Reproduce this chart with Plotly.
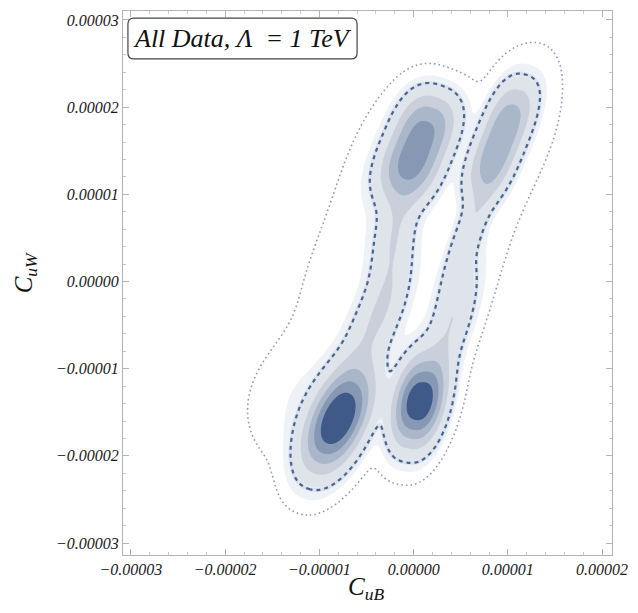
import numpy as np
import plotly.graph_objects as go

# ---- data (units of 1e-5): density components ----
# L1, BL1, BL2, L2 | R1, BR1, BR2, R2 | halos HL1, HL2, HR1, HR2, C0, HLm, HRm
comp_cx  = [-0.80, -0.40, -0.20, 0.05, 0.06, 0.42, 0.60, 0.92, -1.10, -0.28, 0.22, 1.10, 0.10, -0.82, 0.80]
comp_cy  = [-1.58, -0.45, 0.55, 1.55, -1.38, -0.40, 0.62, 1.62, -1.45, 1.40, -1.30, 1.85, 0.20, 0.20, 0.20]
comp_su  = [0.38, 0.45, 0.50, 0.46, 0.32, 0.45, 0.45, 0.50, 0.45, 0.65, 0.45, 0.60, 1.60, 0.90, 0.80]
comp_sv  = [0.186, 0.15, 0.13, 0.216, 0.18, 0.13, 0.09, 0.16, 0.40, 0.28, 0.22, 0.28, 0.50, 0.30, 0.18]
comp_ang = [22, 23, 10, 20, 12, 15, 20, 20, 18, 15, 12, 18, 20, 22, 22]
comp_w   = [1.00, 0.20, 0.20, 0.62, 0.92, 0.20, 0.18, 0.48, 0.04, 0.025, 0.018, 0.03, 0.012, 0.016, 0.010]
comp_pu  = [2, 2, 2, 3, 2, 2, 2, 3, 2, 2, 2, 2, 2, 2, 2]
comp_pv  = [2.2, 2, 2, 2.5, 2.5, 2, 2, 2.5, 2, 2, 2, 2, 2, 2, 2]

fill_levels = [0.04, 0.10, 0.22, 0.38, 0.56, 0.76, 0.95]
fill_colors = ["#eef1f5", "#dfe4eb", "#c9d0dc", "#aab6ca", "#8798b5", "#627699", "#3f5a88"]
dashed_level = 0.085
dotted_level = 0.012

x_ticks = [-3e-5, -2e-5, -1e-5, 0.0, 1e-5, 2e-5]
y_ticks = [-3e-5, -2e-5, -1e-5, 0.0, 1e-5, 2e-5, 3e-5]
x_range = [-3.084e-5, 2.105e-5]
y_range = [-3.137e-5, 3.103e-5]

# ---- density field ----
gx = np.linspace(-3.1, 2.12, 340)
gy = np.linspace(-3.15, 3.12, 400)
X, Y = np.meshgrid(gx, gy)
Z = np.zeros_like(X)
for cx, cy, su, sv, ang, w, pu, pv in zip(comp_cx, comp_cy, comp_su, comp_sv, comp_ang,
                                          comp_w, comp_pu, comp_pv):
    a = np.radians(ang)
    dx, dy = X - cx, Y - cy
    u = dx * np.sin(a) + dy * np.cos(a)
    v = dx * np.cos(a) - dy * np.sin(a)
    Z += w * np.exp(-0.5 * (np.abs(u / su) ** pu + np.abs(v / sv) ** pv))

nl = len(fill_levels)
zmax_map = max(float(Z.max()), fill_levels[-1] + 0.01)
Zf = np.interp(Z, [0.0] + fill_levels + [zmax_map], list(range(0, nl + 1)) + [nl + 1])

n = nl + 1
cs = [[0.0, "#ffffff"], [0.8 / n, "#ffffff"]]
for i, c in enumerate(fill_colors):
    cs.append([(i + 0.8) / n, c])
    cs.append([min((i + 1.8) / n, 1.0), c])
cs[-1][0] = 1.0

xs = gx * 1e-5
ys = gy * 1e-5

fig = go.Figure()
fig.add_trace(go.Contour(
    x=xs, y=ys, z=Zf, zmin=0, zmax=n, zauto=False,
    colorscale=cs, showscale=False, hoverinfo="skip",
    contours=dict(start=1, end=nl, size=1, coloring="fill"),
    line=dict(width=0),
))
fig.add_trace(go.Contour(
    x=xs, y=ys, z=Z, showscale=False, hoverinfo="skip",
    contours=dict(start=dashed_level, end=dashed_level, size=1, coloring="none"),
    line=dict(color="#d8e2f0", width=4),
))
fig.add_trace(go.Contour(
    x=xs, y=ys, z=Z, showscale=False, hoverinfo="skip",
    contours=dict(start=dashed_level, end=dashed_level, size=1, coloring="none"),
    line=dict(color="#4f6288", width=2.2, dash="4px,4px"),
))
fig.add_trace(go.Contour(
    x=xs, y=ys, z=Z, showscale=False, hoverinfo="skip",
    contours=dict(start=dotted_level, end=dotted_level, size=1, coloring="none"),
    line=dict(color="#8e9aba", width=1.6, dash="1.6px,3px"),
))

serif = "Liberation Serif, Times New Roman, Times, serif"
tickfont = dict(family=serif, size=16, color="#1a1a1a", style="italic")
axis_common = dict(
    showgrid=False, zeroline=False, showline=True, linecolor="#b4b4b4", linewidth=1,
    mirror="ticks", ticks="inside", ticklen=6, tickcolor="#b4b4b4", tickwidth=1,
    tickfont=tickfont, tickformat=".5f",
    minor=dict(ticks="inside", ticklen=3, dtick=2e-6, tickcolor="#c8c8c8", showgrid=False),
)
fig.update_xaxes(range=x_range, tickvals=x_ticks, **axis_common)
fig.update_yaxes(range=y_range, tickvals=y_ticks, **axis_common)

# rounded label box (paper coordinates)
x0, x1, y0, y1 = 0.0101, 0.4787, 0.912, 0.987
rx, ry = 0.012, 0.011
path = (f"M {x0+rx},{y0} L {x1-rx},{y0} Q {x1},{y0} {x1},{y0+ry} L {x1},{y1-ry} "
        f"Q {x1},{y1} {x1-rx},{y1} L {x0+rx},{y1} Q {x0},{y1} {x0},{y1-ry} "
        f"L {x0},{y0+ry} Q {x0},{y0} {x0+rx},{y0} Z")
fig.add_shape(type="path", path=path, xref="paper", yref="paper",
              line=dict(color="#444444", width=1.2), fillcolor="white")
fig.add_annotation(x=0.2444, y=0.9495, xref="paper", yref="paper", showarrow=False,
                   xanchor="center", yanchor="middle",
                   text="All Data, Λ\u00a0 = 1 TeV",
                   font=dict(family=serif, size=26, color="#111111", style="italic"))
fig.add_annotation(x=-0.199, y=0.519, xref="paper", yref="paper", showarrow=False, textangle=-90,
                   xanchor="center", yanchor="middle",
                   text="C<sub>uW</sub>",
                   font=dict(family=serif, size=25, color="#111111", style="italic"))
fig.add_annotation(x=0.497, y=-0.062, xref="paper", yref="paper", showarrow=False,
                   xanchor="center", yanchor="middle",
                   text="C<sub>uB</sub>",
                   font=dict(family=serif, size=25, color="#111111", style="italic"))

fig.update_layout(
    width=638, height=613, margin=dict(l=123, r=22, t=10, b=58),
    paper_bgcolor="white", plot_bgcolor="white", showlegend=False,
)
fig.write_html("out.html", config={"displayModeBar": False},
               post_script="document.body.style.margin='0px';document.body.style.overflow='hidden';")
